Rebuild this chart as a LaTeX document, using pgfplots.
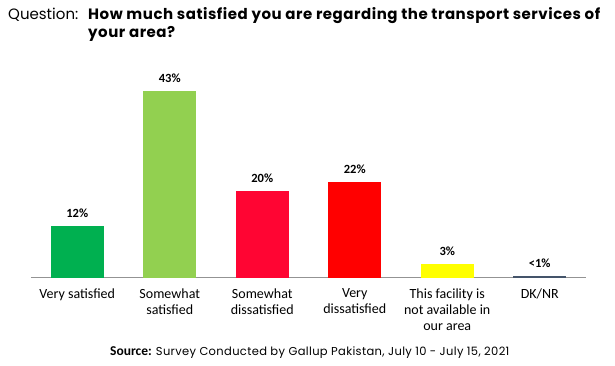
\documentclass[border=0pt]{standalone}
\usepackage{pgfplots}
\pgfplotsset{compat=1.18}
\usepackage{fontspec}
\setmainfont{Carlito}
\newfontfamily\gothic{Poppins}
\newfontfamily\gothicsp[LetterSpace=3.5]{Poppins}
\newfontfamily\gothicsrc[LetterSpace=3]{Poppins}
\definecolor{cg}{HTML}{00B050}
\definecolor{clg}{HTML}{92D050}
\definecolor{ccr}{HTML}{FF0533}
\definecolor{cr}{HTML}{FF0000}
\definecolor{cy}{HTML}{FFFF00}
\definecolor{cdk}{HTML}{44546A}
\begin{document}
\begin{tikzpicture}[x=1pt,y=1pt]
\useasboundingbox (0,0) rectangle (615,366);
\begin{axis}[
  at={(31pt,88pt)}, anchor=south west,
  scale only axis, width=555pt, height=217.4pt,
  xmin=-0.5, xmax=5.5, ymin=0, ymax=50,
  ybar, bar width=53pt, bar shift=0pt,
  hide y axis,
  axis x line*=bottom,
  x axis line style={draw=gray!85, line width=1pt},
  xtick={0,1,2,3,4,5},
  xtick style={draw=none},
  xticklabels={Very satisfied, Somewhat\\satisfied, Somewhat\\dissatisfied, Very\\dissatisfied, This facility is\\not available in\\our area, DK/NR},
  xticklabel style={font=\fontsize{14}{16}\selectfont, align=center, anchor=north, yshift=-3pt},
  point meta=explicit symbolic,
  nodes near coords,
  nodes near coords style={font=\bfseries\fontsize{12.5}{14}\selectfont, anchor=south, yshift=5pt},
  every axis plot/.append style={draw=none},
  clip=false,
]
\addplot[fill=cg] coordinates {(0,12) [12\%]};
\addplot[fill=clg] coordinates {(1,43) [43\%]};
\addplot[fill=ccr] coordinates {(2,20) [20\%]};
\addplot[fill=cr] coordinates {(3,22) [22\%]};
\addplot[fill=cy] coordinates {(4,3.2) [3\%]};
\addplot[fill=cdk] coordinates {(5,0.35) [<1\%]};
\end{axis}
\node[anchor=base west, font=\gothic\fontsize{15}{17}\selectfont, inner sep=0] at (8,346) {Question:};
\node[anchor=base west, font=\gothicsp\bfseries\fontsize{15}{17}\selectfont, inner sep=0] at (88,346) {How much satisfied you are regarding the transport services of};
\node[anchor=base west, font=\gothicsp\bfseries\fontsize{15}{17}\selectfont, inner sep=0] at (88,328) {your area?};
\node[anchor=base west, inner sep=0, font=\fontsize{13.5}{15}\selectfont] at (110,10) {\textbf{Source:} {\gothicsrc\fontsize{11.5}{13}\selectfont Survey Conducted by Gallup Pakistan, July 10 - July 15, 2021}};
\end{tikzpicture}
\end{document}
